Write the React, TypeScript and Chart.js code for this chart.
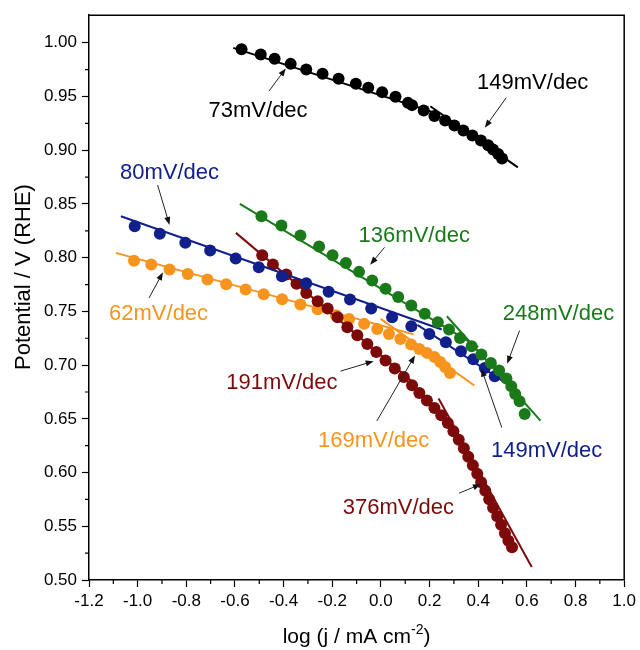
import { useEffect, useRef } from "react";
import { Chart, registerables } from "chart.js";

Chart.register(...registerables);

const FONT = "'Liberation Sans', Arial, Helvetica, sans-serif";

// ---- measured points (x = log j, y = potential) ----
const blackX = [-0.573, -0.494, -0.437, -0.371, -0.307, -0.24, -0.174, -0.103, -0.052, 0.005, 0.06, 0.111, 0.128, 0.176, 0.22, 0.264, 0.302, 0.339, 0.376, 0.411, 0.441, 0.461, 0.482, 0.498];
const blackY = [0.9939, 0.9892, 0.9851, 0.9804, 0.9752, 0.9711, 0.9665, 0.9618, 0.9581, 0.9541, 0.9497, 0.9441, 0.942, 0.9371, 0.9318, 0.9277, 0.9231, 0.9184, 0.9138, 0.9091, 0.9047, 0.9007, 0.8966, 0.8924];

const blueX = [-1.012, -0.909, -0.804, -0.702, -0.597, -0.502, -0.407, -0.307, -0.215, -0.127, -0.04, 0.046, 0.125, 0.199, 0.267, 0.329, 0.38, 0.427, 0.468];
const blueY = [0.8293, 0.8222, 0.8138, 0.8067, 0.7993, 0.7912, 0.7828, 0.7761, 0.7682, 0.7611, 0.7527, 0.7446, 0.7362, 0.729, 0.7213, 0.7129, 0.7055, 0.6974, 0.6897];

const orangeX = [-1.015, -0.944, -0.869, -0.794, -0.713, -0.636, -0.556, -0.482, -0.406, -0.331, -0.26, -0.185, -0.131, -0.069, -0.015, 0.033, 0.08, 0.124, 0.158, 0.189, 0.22, 0.244, 0.264, 0.284];
const orangeY = [0.7972, 0.7937, 0.7889, 0.7849, 0.7797, 0.7753, 0.7704, 0.766, 0.7614, 0.7564, 0.752, 0.7465, 0.743, 0.7384, 0.7337, 0.729, 0.7244, 0.7192, 0.7151, 0.7114, 0.7076, 0.703, 0.6983, 0.6927];

const greenX = [-0.491, -0.409, -0.331, -0.254, -0.199, -0.144, -0.09, -0.036, 0.019, 0.071, 0.125, 0.18, 0.234, 0.28, 0.325, 0.373, 0.413, 0.452, 0.486, 0.516, 0.536, 0.552, 0.57, 0.591];
const greenY = [0.8386, 0.83, 0.8207, 0.8104, 0.8022, 0.795, 0.7868, 0.7788, 0.771, 0.7633, 0.7556, 0.7478, 0.7399, 0.7331, 0.7253, 0.7176, 0.7099, 0.702, 0.695, 0.6875, 0.6804, 0.6732, 0.6664, 0.6546];

const redX = [-0.488, -0.444, -0.389, -0.347, -0.307, -0.26, -0.219, -0.178, -0.138, -0.097, -0.056, -0.019, 0.019, 0.057, 0.094, 0.128, 0.158, 0.189, 0.22, 0.248, 0.275, 0.298, 0.32, 0.341, 0.359, 0.378, 0.396, 0.412, 0.429, 0.445, 0.461, 0.478, 0.494, 0.51, 0.524, 0.539];
const redY = [0.8023, 0.7937, 0.7844, 0.7758, 0.7672, 0.7595, 0.7527, 0.7446, 0.7353, 0.7278, 0.7197, 0.7123, 0.7043, 0.6968, 0.689, 0.6813, 0.6741, 0.667, 0.6601, 0.6533, 0.6462, 0.6384, 0.6305, 0.6226, 0.6147, 0.6068, 0.5989, 0.591, 0.5831, 0.5751, 0.5672, 0.5593, 0.5514, 0.5435, 0.5365, 0.5305];

// ---- Tafel fit lines (end points) ----
const blackFit1X = [-0.607, 0.22];
const blackFit1Y = [0.9953, 0.935];
const blackFit2X = [0.203, 0.563];
const blackFit2Y = [0.941, 0.884];
const blueFit1X = [-1.069, 0.25];
const blueFit1Y = [0.8386, 0.7331];
const blueFit2X = [0.15, 0.556];
const blueFit2Y = [0.7374, 0.6769];
const orangeFit1X = [-1.09, 0.135];
const orangeFit1Y = [0.8045, 0.7286];
const orangeFit2X = [-0.001, 0.384];
const orangeFit2Y = [0.743, 0.681];
const greenFit1X = [-0.58, 0.4];
const greenFit1Y = [0.85, 0.7167];
const greenFit2X = [0.271, 0.656];
const greenFit2Y = [0.7455, 0.6484];
const redFit1X = [-0.596, 0.15];
const redFit1Y = [0.8231, 0.6806];
const redFit2X = [0.237, 0.62];
const redFit2Y = [0.669, 0.512];

// ---- axis ticks ----
const xMajorTicks = [-1.2, -1.0, -0.8, -0.6, -0.4, -0.2, 0.0, 0.2, 0.4, 0.6, 0.8, 1.0];
const xMinorTicks = [-1.1, -0.9, -0.7, -0.5, -0.3, -0.1, 0.1, 0.3, 0.5, 0.7, 0.9];
const yMajorTicks = [0.5, 0.55, 0.6, 0.65, 0.7, 0.75, 0.8, 0.85, 0.9, 0.95, 1.0];
const yMinorTicks = [0.525, 0.575, 0.625, 0.675, 0.725, 0.775, 0.825, 0.875, 0.925, 0.975];

// ---- colours ----
const C_BLACK = "#000000";
const C_BLUE = "#12208c";
const C_ORANGE = "#f7941d";
const C_GREEN = "#1a7a1a";
const C_RED = "#7d0a0a";

// ---- annotations: label text, colour, label centre, arrow tail, arrow head (data units) ----
const annTexts = ["73mV/dec", "149mV/dec", "80mV/dec", "62mV/dec", "136mV/dec", "248mV/dec", "191mV/dec", "169mV/dec", "149mV/dec", "376mV/dec"];
const annColors = [C_BLACK, C_BLACK, C_BLUE, C_ORANGE, C_GREEN, C_GREEN, C_RED, C_ORANGE, C_BLUE, C_RED];
const annLabelX = [-0.505, 0.624, -0.869, -0.914, 0.137, 0.73, -0.407, -0.03, 0.681, 0.072];
const annLabelY = [0.9366, 0.9626, 0.879, 0.7481, 0.8204, 0.7481, 0.683, 0.6291, 0.6198, 0.5669];
const annTailX = [-0.46, 0.515, -0.918, -0.953, 0.015, 0.57, -0.166, -0.017, 0.497, 0.321];
const annTailY = [0.9551, 0.9489, 0.8676, 0.7626, 0.8096, 0.7322, 0.6944, 0.648, 0.6418, 0.5808];
const annHeadX = [-0.391, 0.427, -0.869, -0.896, -0.044, 0.519, -0.03, 0.14, 0.413, 0.411];
const annHeadY = [0.9762, 0.921, 0.8305, 0.7864, 0.7935, 0.7013, 0.7037, 0.709, 0.6966, 0.5892];

const pts = (xs: number[], ys: number[]) => xs.map((x, i) => ({ x, y: ys[i] }));

const decorPlugin = {
  id: "decor",
  afterDraw(chart: any) {
    const ctx: CanvasRenderingContext2D = chart.ctx;
    const { left, right, top, bottom } = chart.chartArea;
    const xs = chart.scales.x;
    const ys = chart.scales.y;
    ctx.save();
    ctx.strokeStyle = "#000";
    ctx.lineWidth = 1.5;
    ctx.beginPath();
    ctx.moveTo(left, top);
    ctx.lineTo(right, top);
    ctx.lineTo(right, bottom);
    ctx.stroke();
    ctx.lineWidth = 1.2;
    ctx.beginPath();
    xMinorTicks.forEach((v) => {
      const p = xs.getPixelForValue(v);
      ctx.moveTo(p, bottom);
      ctx.lineTo(p, bottom + 4);
    });
    yMinorTicks.forEach((v) => {
      const p = ys.getPixelForValue(v);
      ctx.moveTo(left, p);
      ctx.lineTo(left - 4, p);
    });
    ctx.stroke();

    // annotations
    ctx.font = `22px ${FONT}`;
    ctx.textAlign = "center";
    ctx.textBaseline = "middle";
    annTexts.forEach((t, i) => {
      ctx.fillStyle = annColors[i];
      ctx.fillText(t, xs.getPixelForValue(annLabelX[i]), ys.getPixelForValue(annLabelY[i]));
      const x0 = xs.getPixelForValue(annTailX[i]);
      const y0 = ys.getPixelForValue(annTailY[i]);
      const x1 = xs.getPixelForValue(annHeadX[i]);
      const y1 = ys.getPixelForValue(annHeadY[i]);
      const a = Math.atan2(y1 - y0, x1 - x0);
      const hl = 8;
      const hw = 3;
      ctx.strokeStyle = "#222";
      ctx.lineWidth = 1;
      ctx.beginPath();
      ctx.moveTo(x0, y0);
      ctx.lineTo(x1 - Math.cos(a) * hl * 0.8, y1 - Math.sin(a) * hl * 0.8);
      ctx.stroke();
      ctx.fillStyle = "#111";
      ctx.beginPath();
      ctx.moveTo(x1, y1);
      ctx.lineTo(x1 - Math.cos(a) * hl - Math.sin(a) * hw, y1 - Math.sin(a) * hl + Math.cos(a) * hw);
      ctx.lineTo(x1 - Math.cos(a) * hl + Math.sin(a) * hw, y1 - Math.sin(a) * hl - Math.cos(a) * hw);
      ctx.closePath();
      ctx.fill();
    });

    // axis titles
    ctx.fillStyle = "#000";
    ctx.textAlign = "left";
    ctx.textBaseline = "alphabetic";
    const big = `21px ${FONT}`;
    const small = `14px ${FONT}`;
    ctx.font = big;
    const t1 = "log (j / mA cm";
    const t2 = "-2";
    const t3 = ")";
    const w1 = ctx.measureText(t1).width;
    const w3 = ctx.measureText(t3).width;
    ctx.font = small;
    const w2 = ctx.measureText(t2).width;
    const total = w1 + w2 + w3;
    const cx = (left + right) / 2;
    const by = 643;
    const sx = cx - total / 2;
    ctx.font = big;
    ctx.fillText(t1, sx, by);
    ctx.font = small;
    ctx.fillText(t2, sx + w1, by - 9);
    ctx.font = big;
    ctx.fillText(t3, sx + w1 + w2, by);

    ctx.translate(24, 277);
    ctx.rotate(-Math.PI / 2);
    ctx.textAlign = "center";
    ctx.textBaseline = "middle";
    ctx.font = `22px ${FONT}`;
    ctx.fillText("Potential / V (RHE)", 0, 0);
    ctx.restore();
  },
};

export default function App() {
  const ref = useRef<HTMLCanvasElement | null>(null);
  useEffect(() => {
    document.body.style.margin = "0";
    if (!ref.current) return;
    const dot = (label: string, xs: number[], ys: number[], color: string, order: number) => ({
      label,
      data: pts(xs, ys),
      showLine: false,
      pointRadius: 6,
      pointHoverRadius: 6,
      pointBackgroundColor: color,
      pointBorderColor: color,
      pointBorderWidth: 0,
      order,
    });
    const fit = (label: string, xs: number[], ys: number[], color: string, order: number) => ({
      label,
      data: pts(xs, ys),
      showLine: true,
      borderColor: color,
      borderWidth: 2,
      pointRadius: 0,
      order,
    });
    const chart = new Chart(ref.current, {
      type: "scatter",
      data: {
        datasets: [
          fit("black fit 1", blackFit1X, blackFit1Y, C_BLACK, 1),
          fit("black fit 2", blackFit2X, blackFit2Y, C_BLACK, 1),
          dot("black", blackX, blackY, C_BLACK, 2),
          fit("green fit 1", greenFit1X, greenFit1Y, C_GREEN, 3),
          fit("green fit 2", greenFit2X, greenFit2Y, C_GREEN, 3),
          dot("green", greenX, greenY, C_GREEN, 4),
          fit("blue fit 1", blueFit1X, blueFit1Y, C_BLUE, 5),
          fit("blue fit 2", blueFit2X, blueFit2Y, C_BLUE, 5),
          dot("blue", blueX, blueY, C_BLUE, 6),
          fit("red fit 1", redFit1X, redFit1Y, C_RED, 7),
          fit("red fit 2", redFit2X, redFit2Y, C_RED, 7),
          dot("red", redX, redY, C_RED, 8),
          fit("orange fit 1", orangeFit1X, orangeFit1Y, C_ORANGE, 9),
          fit("orange fit 2", orangeFit2X, orangeFit2Y, C_ORANGE, 9),
          dot("orange", orangeX, orangeY, C_ORANGE, 10),
        ] as any,
      },
      options: {
        animation: false,
        responsive: false,
        maintainAspectRatio: false,
        events: [],
        layout: { padding: { top: 14, right: 13, left: 0, bottom: 0 } },
        plugins: { legend: { display: false }, tooltip: { enabled: false } },
        scales: {
          x: {
            type: "linear",
            min: -1.2,
            max: 1.0,
            afterFit: (s: any) => {
              s.height = 70;
            },
            afterBuildTicks: (s: any) => {
              s.ticks = xMajorTicks.map((v) => ({ value: v }));
            },
            border: { display: true, color: "#000", width: 1.5 },
            grid: { drawOnChartArea: false, drawTicks: true, tickLength: 7, color: "#000", tickWidth: 1.2 },
            ticks: {
              color: "#000",
              font: { family: FONT, size: 17 },
              padding: 4,
              maxRotation: 0,
              autoSkip: false,
              callback: (v: any) => Number(v).toFixed(1),
            },
          },
          y: {
            type: "linear",
            min: 0.5,
            max: 1.0257,
            afterFit: (s: any) => {
              s.width = 89;
            },
            afterBuildTicks: (s: any) => {
              s.ticks = yMajorTicks.map((v) => ({ value: v }));
            },
            border: { display: true, color: "#000", width: 1.5 },
            grid: { drawOnChartArea: false, drawTicks: true, tickLength: 7, color: "#000", tickWidth: 1.2 },
            ticks: {
              color: "#000",
              font: { family: FONT, size: 17 },
              padding: 5,
              autoSkip: false,
              callback: (v: any) => Number(v).toFixed(2),
            },
          },
        },
      },
      plugins: [decorPlugin],
    } as any);
    return () => chart.destroy();
  }, []);
  return (
    <div style={{ width: 640, height: 650 }}>
      <canvas ref={ref} width={640} height={650} style={{ display: "block" }} />
    </div>
  );
}
